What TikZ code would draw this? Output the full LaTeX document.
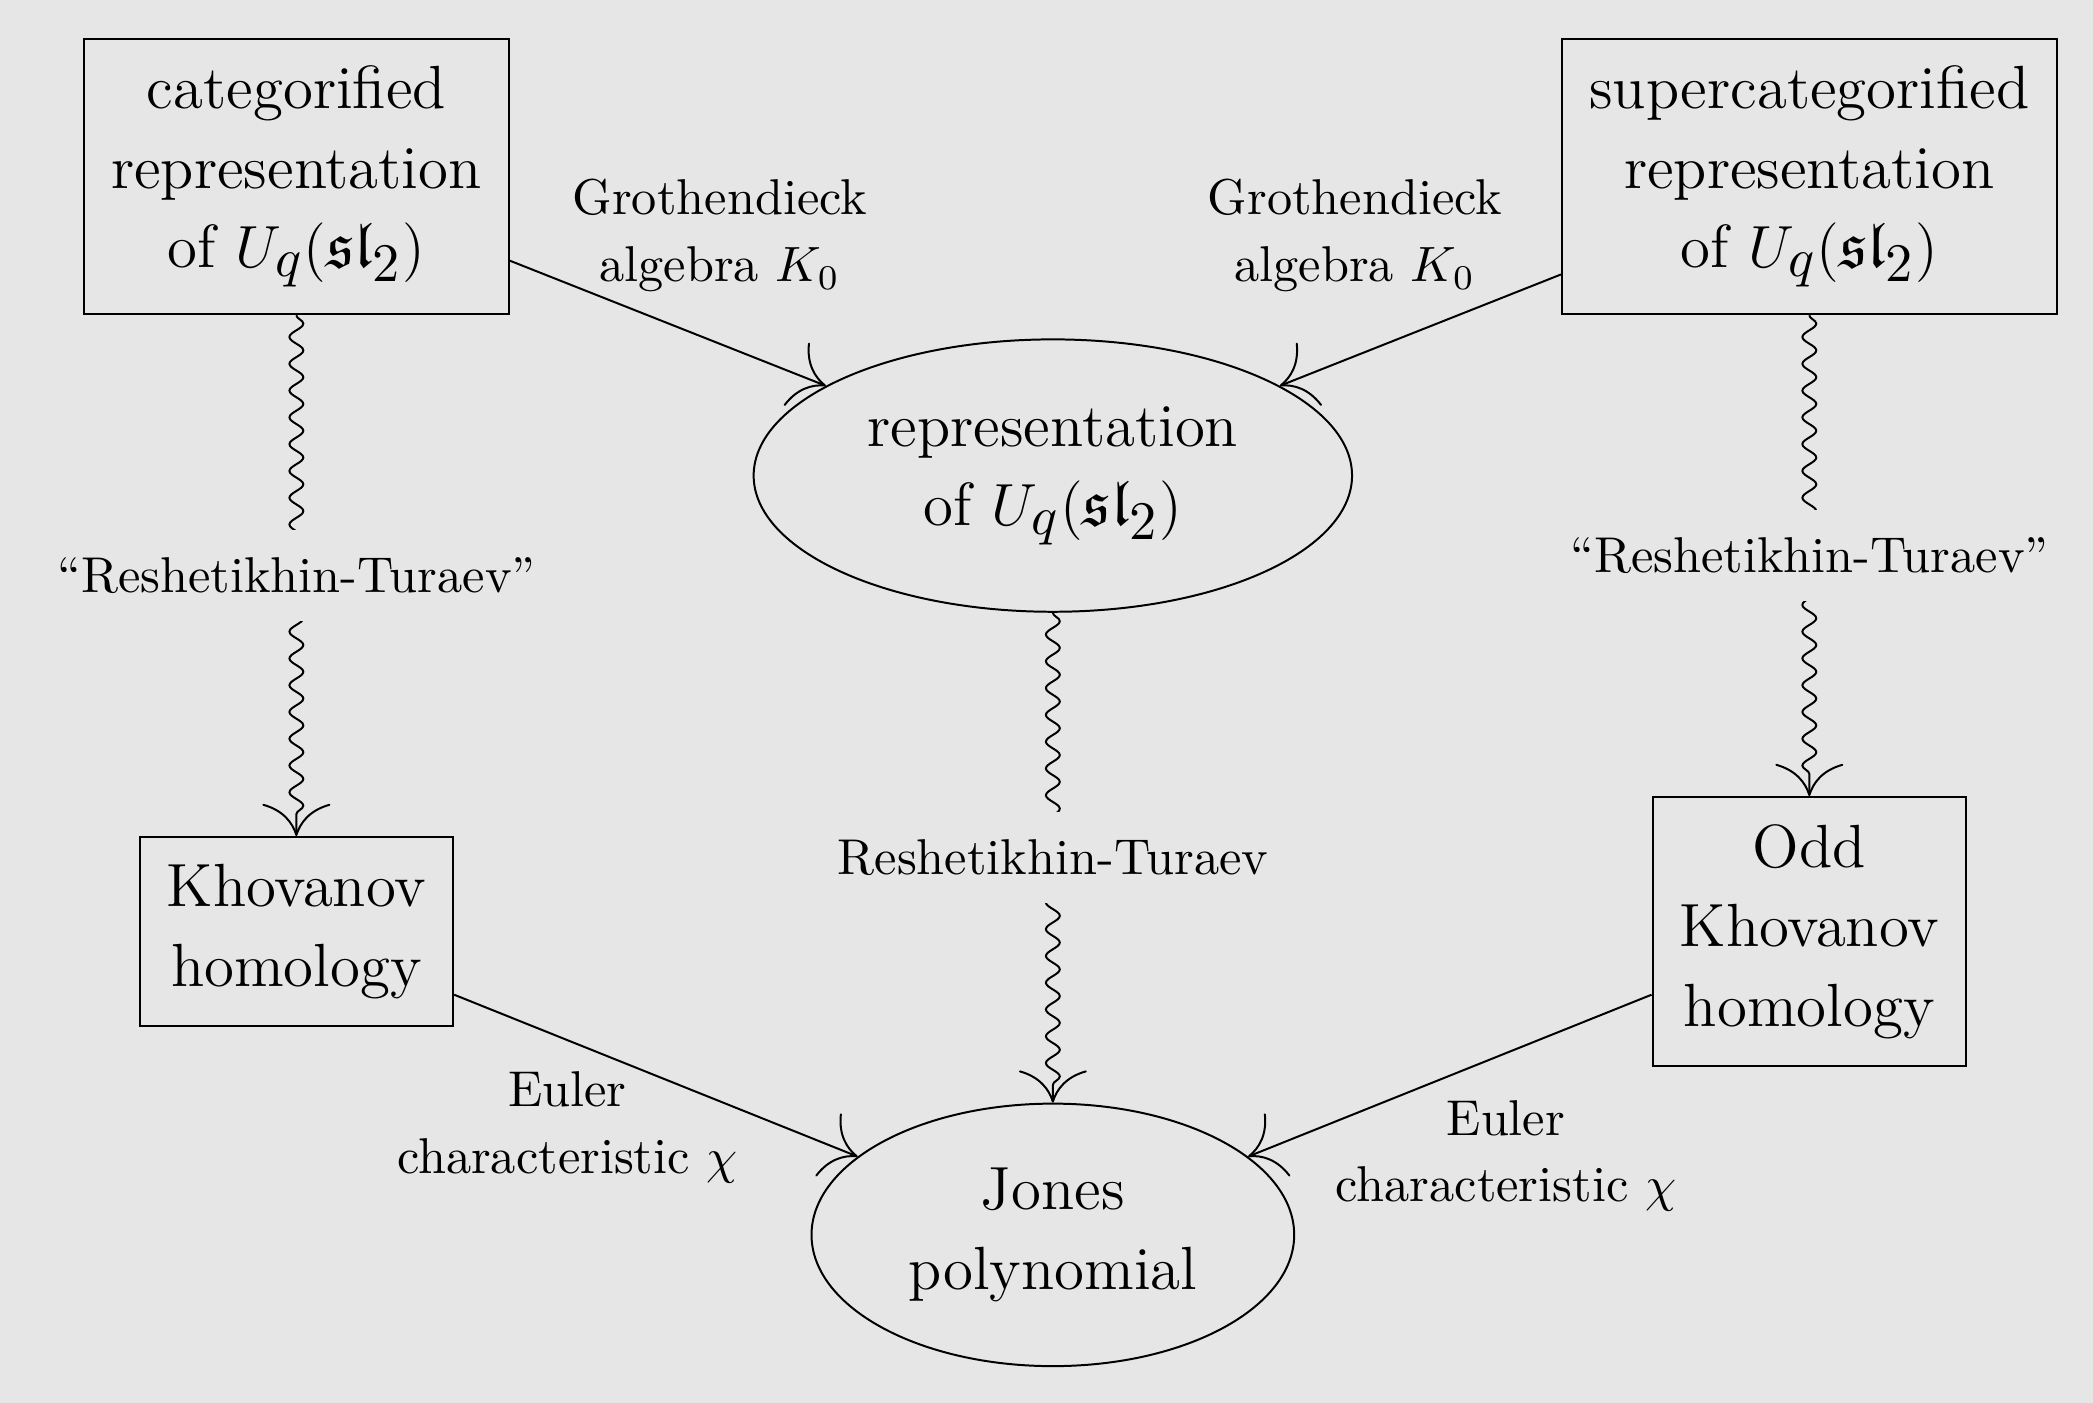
\documentclass[tikz,border=0pt]{standalone}
\usepackage{amsmath,amssymb,amsfonts}
\usepackage{tikz}
\usetikzlibrary{shapes.geometric,arrows.meta,decorations.pathmorphing}
\DeclareMathSizes{12.3}{13}{10.5}{8}
\definecolor{paper}{HTML}{E6E6E6}
\tikzset{
  catbox/.style={draw, align=center, inner sep=5.5pt, font=\fontsize{12.3}{16}\selectfont},
  catell/.style={draw, ellipse, align=center, inner sep=0pt, font=\fontsize{12.3}{16}\selectfont},
  lbl/.style={align=center, font=\fontsize{10.15}{13.5}\selectfont},
  gaplbl/.style={lbl, fill=paper, inner xsep=2pt, inner ysep=5.5pt},
  cmto/.style={-{Computer Modern Rightarrow[width=13.7pt,length=6.5pt]}},
  squig/.style={cmto, decorate, decoration={snake, amplitude=1.4pt, segment length=5.4pt, post length=3pt}}
}

\begin{document}
\begin{tikzpicture}
\fill[paper] (0,0) rectangle (14.83,9.94);
\useasboundingbox (0,0) rectangle (14.83,9.94);
% top row
\node[catbox] (cat) at (2.10,8.69) {categorified\\representation\\of $U_q(\mathfrak{sl}_2)$};
\node[catbox] (supcat) at (12.82,8.69) {supercategorified\\representation\\of $U_q(\mathfrak{sl}_2)$};
\node[catell, minimum width=4.24cm, minimum height=1.93cm] (rep) at (7.46,6.57) {representation\\of $U_q(\mathfrak{sl}_2)$};
% bottom row
\node[catbox] (kh) at (2.10,3.34) {Khovanov\\homology};
\node[catbox] (oddkh) at (12.82,3.34) {Odd\\Khovanov\\homology};
\node[catell, minimum width=3.42cm, minimum height=1.86cm] (jones) at (7.46,1.19) {Jones\\polynomial};
% decategorification
\draw[cmto] (cat) -- (rep);
\draw[cmto] (supcat) -- (rep);
\draw[cmto] (kh) -- (jones);
\draw[cmto] (oddkh) -- (jones);
\node[lbl] (grothl) at (5.10,8.27) {Grothendieck\\algebra $K_0$};
\node[lbl] (grothr) at (9.60,8.27) {Grothendieck\\algebra $K_0$};
\node[lbl] (eulerl) at (4.02,1.95) {Euler\\characteristic $\chi$};
\node[lbl] (eulerr) at (10.67,1.75) {Euler\\characteristic $\chi$};
% invariants
\draw[squig] (cat) -- node[gaplbl] {``Reshetikhin-Turaev''} (kh);
\draw[squig] (supcat) -- node[gaplbl] {``Reshetikhin-Turaev''} (oddkh);
\draw[squig] (rep) -- node[gaplbl] {Reshetikhin-Turaev} (jones);
\end{tikzpicture}
\end{document}
